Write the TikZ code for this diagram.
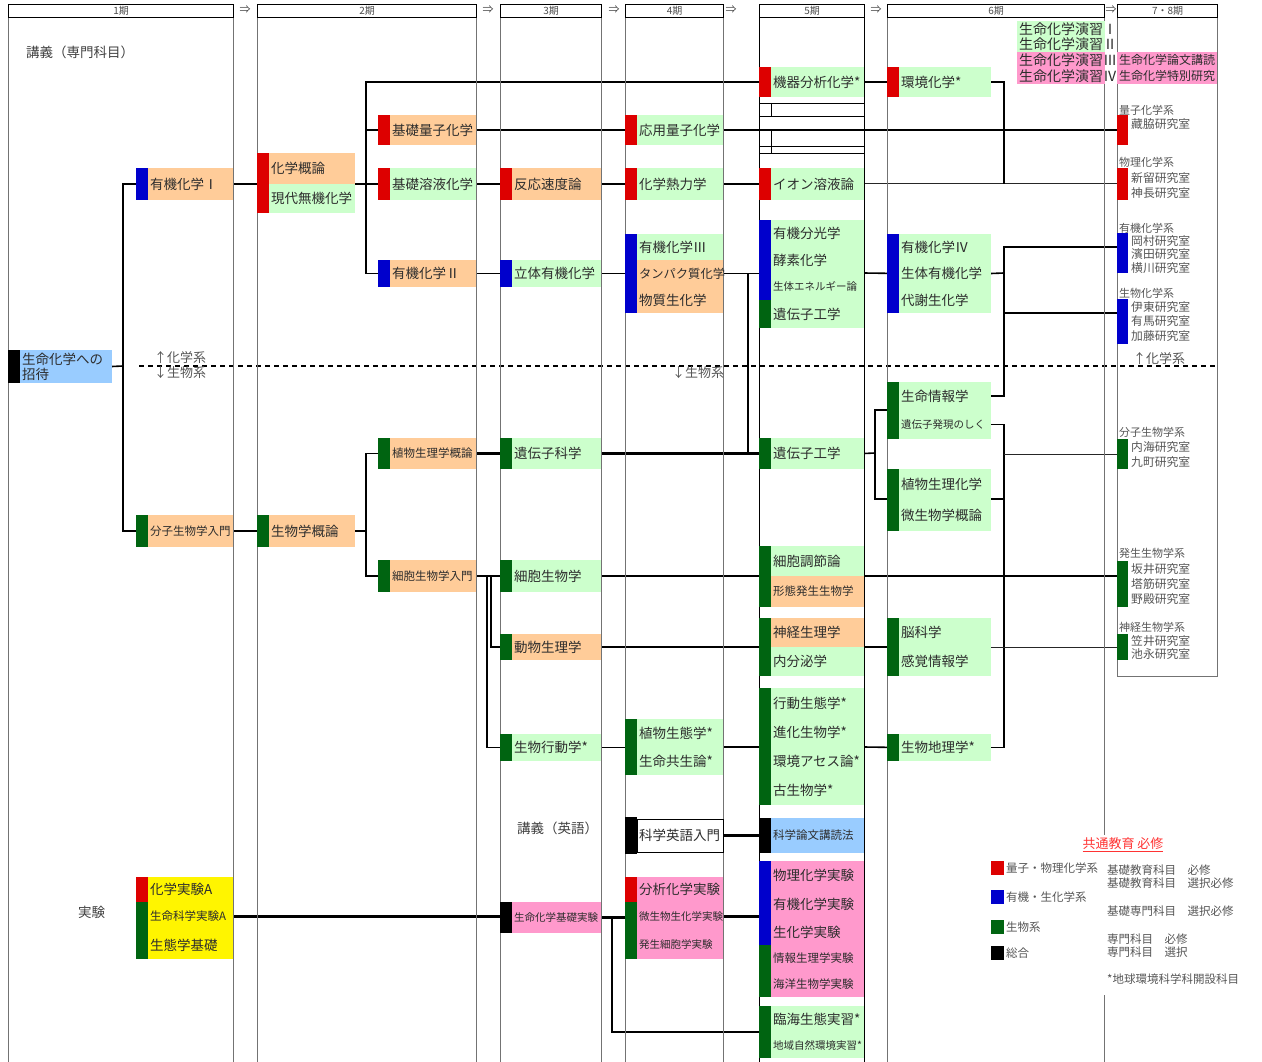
\documentclass[tikz,border=0pt]{standalone}
\usepackage{fontspec}
\setmainfont{Noto Sans CJK JP}
\usepackage{tikz}
\usetikzlibrary{positioning, backgrounds}
\definecolor{peach}{RGB}{255,204,153}
\definecolor{mint}{RGB}{204,255,204}
\definecolor{rose}{RGB}{255,153,204}
\definecolor{sky}{RGB}{153,204,255}
\definecolor{lemon}{RGB}{255,245,0}
\definecolor{kred}{RGB}{221,0,0}
\definecolor{kblue}{RGB}{0,0,204}
\definecolor{kgreen}{RGB}{0,100,17}
\definecolor{ink}{RGB}{45,45,45}
\definecolor{labgray}{RGB}{85,85,85}

\begin{document}
\begin{tikzpicture}[
    x=1pt, y=-1pt,
    fbig/.style={font=\fontsize{13.5}{15}\selectfont},
    fsmall/.style={font=\fontsize{11.5}{13}\selectfont},
    ftiny/.style={font=\fontsize{10.5}{12}\selectfont},
    course/.style={anchor=north west, fill=#1, inner xsep=2pt, inner ysep=0pt, outer sep=0pt, align=left, text=ink, fbig},
    ht/.style={minimum height=#1},
    w1/.style={text width=81pt},
    w2/.style={text width=82pt},
    w3/.style={text width=85pt},
    w4/.style={text width=82pt},
    w5/.style={text width=89pt},
    w6/.style={text width=88pt},
    head/.style={anchor=north west, draw, line width=1.2pt, fill=white, minimum height=13pt, inner sep=0pt, text=black!70, font=\fontsize{10}{10}\selectfont},
    labbar/.style={anchor=north west, fill=#1, minimum width=11pt, inner sep=0pt, outer sep=0pt},
    room/.style={anchor=west, inner sep=0pt, text=labgray, font=\fontsize{11.8}{12}\selectfont},
    grp/.style={anchor=west, inner sep=0pt, text=labgray, font=\fontsize{11}{12}\selectfont},
    note/.style={anchor=west, inner sep=0pt, text=labgray, font=\fontsize{11.5}{12}\selectfont},
    sect/.style={anchor=west, inner sep=0pt, text=black!75, font=\fontsize{13.5}{15}\selectfont},
    conn/.style={line width=1.6pt},
    thickc/.style={line width=2.8pt},
    thinc/.style={line width=1pt, black!85},
    col/.style={black!55, line width=0.9pt}
]
\useasboundingbox (0,0) rectangle (1262,1062);

% columns
\foreach \x in {8,233,257,476,500,601,625,723} \draw[col] (\x,17) -- (\x,1062);
\foreach \x in {759,864} \draw[black, line width=0.9pt] (\x,17) -- (\x,1062);
\draw[col] (887,17) -- (887,1062);
\draw[col] (1104,17) -- (1104,835);
\draw[col] (1104,995) -- (1104,1062);
\draw[col] (1117,17) rectangle (1217,676);
% empty cells in 5th term
\draw[black, line width=0.8pt] (759,103) rectangle (864,116);
\draw[black, line width=0.8pt] (771,103) -- (771,116);
\draw[black, line width=0.8pt] (759,146) -- (864,146);
\draw[black, line width=0.8pt] (759,153) -- (864,153);
\draw[black, line width=0.8pt] (771,131) -- (771,153);

% term headers
\foreach \x [count=\i] in {245,488,614,731,876,1111}
    \node[text=black!70, font=\fontsize{11}{11}\selectfont] (arr\i) at (\x,10) {⇒};
\foreach \xa/\xb/\t [count=\i] in {8/233/1期, 257/476/2期, 500/601/3期, 625/723/4期, 759/864/5期, 887/1104/6期, 1117/1217/7・8期}
    \node[head, minimum width=\xb-\xa] (h\i) at (\xa,4) {\t};

% section titles
\node[sect] (senmon) at (26,52) {講義（専門科目）};
\node[sect] (eigokougi) at (517,828) {講義（英語）};
\node[sect] (jikken) at (78,912) {実験};
\node[note, font=\fontsize{13}{14}\selectfont] (up1) at (154,358) {↑化学系};
\node[note, font=\fontsize{13}{14}\selectfont] (down1) at (154,373) {↓生物系};
\node[note, font=\fontsize{13}{14}\selectfont] (down4) at (672,373) {↓生物系};
\node[note, font=\fontsize{13}{14}\selectfont] (up7) at (1133,359) {↑化学系};

% 1st term
\node[course=sky, text width=88pt, ht=33] (shotai) at (20,350) {生命化学への\\招待};
\node[course=peach, w1, ht=32] (yuki1) at (148,168) {有機化学Ⅰ};
\node[course=peach, w1, fsmall, ht=32] (bunshi) at (148,515) {分子生物学入門};
\node[course=lemon, w1, ht=25] (kjA) at (148,877) {化学実験A};
\node[course=lemon, w1, fsmall, ht=29] (sjA) at (148,902) {生命科学実験A};
\node[course=lemon, w1, ht=28] (seitaikiso) at (148,931) {生態学基礎};

% 2nd term
\node[course=peach, w2, ht=31] (gairon) at (269,153) {化学概論};
\node[course=mint, w2, ht=29] (gendai) at (269,184) {現代無機化学};
\node[course=peach, w2, ht=32] (seibutsu) at (269,515) {生物学概論};
\node[course=peach, w2, ht=30] (kryoshi) at (390,115) {基礎量子化学};
\node[course=mint, w2, ht=32] (kyoeki) at (390,168) {基礎溶液化学};
\node[course=peach, w2, ht=27] (yuki2) at (390,260) {有機化学Ⅱ};
\node[course=peach, w2, fsmall, ht=31] (shokugai) at (390,438) {植物生理学概論};
\node[course=peach, w2, fsmall, ht=32] (saibonyu) at (390,560) {細胞生物学入門};

% 3rd term
\node[course=peach, w3, ht=32] (hanno) at (512,168) {反応速度論};
\node[course=mint, w3, ht=27] (rittai) at (512,260) {立体有機化学};
\node[course=mint, w3, ht=31] (ikagaku) at (512,438) {遺伝子科学};
\node[course=mint, w3, ht=32] (saibo) at (512,560) {細胞生物学};
\node[course=peach, w3, ht=26] (dobutsu) at (512,634) {動物生理学};
\node[course=mint, w3, ht=27] (kodo) at (512,734) {生物行動学*};
\node[course=rose, w3, ftiny, ht=31] (kisojik) at (512,902) {生命化学基礎実験};

% 4th term
\node[course=mint, w4, ht=30] (oryoshi) at (637,115) {応用量子化学};
\node[course=mint, w4, ht=32] (netsu) at (637,168) {化学熱力学};
\node[course=mint, w4, ht=26] (yuki3) at (637,234) {有機化学Ⅲ};
\node[course=peach, w4, font=\fontsize{12.3}{13}\selectfont, ht=27] (tanpaku) at (637,260) {タンパク質化学};
\node[course=peach, w4, ht=26] (busshitsu) at (637,287) {物質生化学};
\node[course=mint, w4, ht=28] (shokuseitai) at (637,719) {植物生態学*};
\node[course=mint, w4, ht=28] (kyosei) at (637,747) {生命共生論*};
\node[course=white, draw=black, line width=0.8pt, w4, ht=33] (eigo) at (637,819) {科学英語入門};
\node[course=rose, w4, ht=25] (bunseki) at (637,877) {分析化学実験};
\node[course=rose, w4, ftiny, ht=29] (biseijik) at (637,902) {微生物生化学実験};
\node[course=rose, w4, ftiny, ht=28] (hasseijik) at (637,931) {発生細胞学実験};

% 5th term
\node[course=mint, w5, ht=30] (kiki) at (771,67) {機器分析化学*};
\node[course=mint, w5, ht=32] (ion) at (771,168) {イオン溶液論};
\node[course=mint, w5, ht=27] (bunko) at (771,220) {有機分光学};
\node[course=mint, w5, ht=26] (koso) at (771,247) {酵素化学};
\node[course=mint, w5, ftiny, ht=27] (energy) at (771,273) {生体エネルギー論};
\node[course=mint, w5, ht=28] (ikogaku1) at (771,300) {遺伝子工学};
\node[course=mint, w5, ht=31] (ikogaku) at (771,438) {遺伝子工学};
\node[course=mint, w5, ht=30] (chosetsu) at (771,546) {細胞調節論};
\node[course=peach, w5, fsmall, ht=31] (keitai) at (771,576) {形態発生生物学};
\node[course=peach, w5, ht=29] (shinkei) at (771,618) {神経生理学};
\node[course=mint, w5, ht=29] (naibunpi) at (771,647) {内分泌学};
\node[course=mint, w5, ht=30] (kodoseitai) at (771,688) {行動生態学*};
\node[course=mint, w5, ht=29] (shinka) at (771,718) {進化生物学*};
\node[course=mint, w5, ht=28] (assess) at (771,747) {環境アセス論*};
\node[course=mint, w5, ht=30] (kosei) at (771,775) {古生物学*};
\node[course=sky, w5, fsmall, ht=35] (ronbun) at (771,818) {科学論文講読法};
\node[course=rose, w5, ht=29] (butsurij) at (771,861) {物理化学実験};
\node[course=rose, w5, ht=29] (yukij) at (771,890) {有機化学実験};
\node[course=rose, w5, ht=26] (seikaj) at (771,919) {生化学実験};
\node[course=rose, w5, fsmall, ht=26] (johoj) at (771,945) {情報生理学実験};
\node[course=rose, w5, fsmall, ht=26] (kaiyoj) at (771,971) {海洋生物学実験};
\node[course=mint, w5, ht=26] (rinkai) at (771,1006) {臨海生態実習*};
\node[course=mint, w5, ftiny, ht=26] (chiiki) at (771,1032) {地域自然環境実習*};

% 6th term
\node[course=mint, w6, ht=30] (kankyo) at (899,67) {環境化学*};
\node[course=mint, w6, ht=26] (yuki4) at (899,234) {有機化学Ⅳ};
\node[course=mint, w6, ht=27] (seitaiyuki) at (899,260) {生体有機化学};
\node[course=mint, w6, ht=26] (taisha) at (899,287) {代謝生化学};
\node[course=mint, w6, ht=28] (joho) at (899,382) {生命情報学};
\node[course=mint, w6, ftiny, ht=29] (hatsugen) at (899,410) {遺伝子発現のしく};
\node[course=mint, w6, ht=30] (shokuseiri) at (899,469) {植物生理化学};
\node[course=mint, w6, ht=32] (biseigai) at (899,499) {微生物学概論};
\node[course=mint, w6, ht=29] (nou) at (899,618) {脳科学};
\node[course=mint, w6, ht=29] (kankaku) at (899,647) {感覚情報学};
\node[course=mint, w6, ht=27] (chiri) at (899,734) {生物地理学*};
\node[course=mint, text width=84pt, font=\fontsize{14}{15}\selectfont, ht=15.5] (enshu1) at (1017,21) {生命化学演習Ⅰ};
\node[course=mint, text width=84pt, font=\fontsize{14}{15}\selectfont, ht=15.5] (enshu2) at (1017,36.5) {生命化学演習Ⅱ};
\node[course=rose, text width=84pt, font=\fontsize{14}{15}\selectfont, ht=16] (enshu3) at (1017,52) {生命化学演習Ⅲ};
\node[course=rose, text width=84pt, font=\fontsize{14}{15}\selectfont, ht=16] (enshu4) at (1017,68) {生命化学演習Ⅳ};

% 7th-8th term
\node[course=rose, text width=96pt, font=\fontsize{12}{13}\selectfont, ht=16] (koudoku) at (1117,52) {生命化学論文講読};
\node[course=rose, text width=96pt, font=\fontsize{12}{13}\selectfont, ht=16] (tokubetsu) at (1117,68) {生命化学特別研究};
\node[labbar=kred, ht=30] (ryoshi) at (1117,115) {};
\node[labbar=kred, ht=32] (butsuri) at (1117,168) {};
\node[labbar=kblue, ht=40] (yukikei) at (1117,233) {};
\node[labbar=kblue, ht=45] (seika) at (1117,299) {};
\node[labbar=kgreen, ht=30] (bunshikei) at (1117,439) {};
\node[labbar=kgreen, ht=46] (hasseikei) at (1117,561) {};
\node[labbar=kgreen, ht=26] (shinkeikei) at (1117,634) {};
\foreach \y/\t [count=\i] in {110/量子化学系, 162/物理化学系, 228/有機化学系, 293/生物化学系, 432/分子生物学系, 553/発生生物学系, 627/神経生物学系}
    \node[grp] (grp\i) at (1119,\y) {\t};
\foreach \y/\t [count=\i] in {124/藏脇研究室, 178/新留研究室, 193/神長研究室, 241/岡村研究室, 254/濱田研究室, 268/横川研究室, 307/伊東研究室, 321/有馬研究室, 336/加藤研究室, 447/内海研究室, 462/九町研究室, 569/坂井研究室, 584/塔筋研究室, 599/野殿研究室, 641/笠井研究室, 654/池永研究室}
    \node[room] (room\i) at (1131,\y) {\t};

% colour bars
\foreach \x/\ya/\yb/\c in {136/168/200/kblue, 136/515/547/kgreen, 8/350/383/black, 136/877/902/kred, 136/902/959/kgreen,
    257/153/213/kred, 257/515/547/kgreen, 378/115/145/kred, 378/168/200/kred, 378/260/287/kblue, 378/438/469/kgreen, 378/560/592/kgreen,
    500/168/200/kred, 500/260/287/kblue, 500/438/469/kgreen, 500/560/592/kgreen, 500/634/660/kgreen, 500/734/761/kgreen, 500/902/933/black,
    625/115/145/kred, 625/168/200/kred, 625/234/313/kblue, 625/719/775/kgreen, 625/817/854/black, 625/877/902/kred, 625/902/959/kgreen,
    759/67/97/kred, 759/168/200/kred, 759/220/300/kblue, 759/300/328/kgreen, 759/438/469/kgreen, 759/546/607/kgreen, 759/618/676/kgreen,
    759/688/805/kgreen, 759/818/853/black, 759/861/945/kblue, 759/945/997/kgreen, 759/1006/1058/kgreen,
    887/67/97/kred, 887/234/313/kblue, 887/382/439/kgreen, 887/469/531/kgreen, 887/618/676/kgreen, 887/734/761/kgreen}
    \fill[\c] (\x,\ya) rectangle (\x+12,\yb);

% legend
\node[anchor=center, inner sep=0pt, text=red!80!white, font=\fontsize{13}{14}\selectfont] (kyotsu) at (1123,845) {\underline{共通教育 必修}};
\foreach \y/\c/\t [count=\i] in {861/kred/量子・物理化学系, 890/kblue/有機・生化学系, 920/kgreen/生物系, 946/black/総合} {
    \node[labbar=\c, minimum width=13pt, ht=14] (key\i) at (991,\y) {};
    \node[note, right=2pt of key\i] (keyt\i) {\t};
}
\foreach \y/\t [count=\i] in {870/基礎教育科目　必修, 883/基礎教育科目　選択必修, 911/基礎専門科目　選択必修, 939/専門科目　必修, 952/専門科目　選択, 979/*地球環境科学科開設科目}
    \node[note] (kind\i) at (1107,\y) {\t};

% connectors
\begin{scope}[on background layer]
\draw[line width=1.5pt, dash pattern=on 5pt off 4pt] (139,366) -- (1217,366);
% chemistry
\coordinate (s1) at (123,366);
\draw[conn] (shotai.east) -- (s1);
\draw[conn] (yuki1.west) -| (s1) |- (bunshi.west);
\draw[conn] (yuki1.east) -- (yuki1.east -| gairon.west);
\coordinate (s2) at (366,184);
\draw[conn] (gairon.south east) -- (kyoeki.west);
\draw[conn] (kiki.west) -| (s2) |- (yuki2.west);
\draw[thickc] (s2 |- kryoshi.west) -- (kryoshi.west);
\draw[thickc] (kryoshi.east) -- (oryoshi.west);
\draw[thickc] (oryoshi.east) -- (ryoshi.west);
\draw[conn] (kyoeki.east) -- (hanno.west);
\draw[conn] (hanno.east) -- (netsu.west);
\draw[line width=2.2pt] (netsu.east) -- (ion.west);
\draw[thinc] (ion.east) -- (butsuri.west);
\draw[conn] (kiki.east) -- (kankyo.west);
\coordinate (s3) at (1004,184);
\draw[conn] (kankyo.east) -| (s3);
\draw[conn] (yuki2.east) -- (rittai.west);
\draw[conn] (rittai.east) -- (tanpaku.west);
\draw[conn] (tanpaku.east) -- (tanpaku.east -| energy.west);
\coordinate (s4) at (748,453);
\draw[conn] (s4 |- tanpaku.east) -- (s4);
\draw[conn] (energy.north east) -- (seitaiyuki.west);
\coordinate (s5) at (1004,273);
\draw[conn] (seitaiyuki.east) -- (s5);
\draw[conn] (yuki4.east -| yukikei.west) -| (s5) |- (joho.east);
\draw[conn] (s5 |- taisha.south) -- (seika.west |- taisha.south);
% biology
\draw[thickc] (shokugai.east) -- (ikagaku.west);
\draw[thickc] (ikagaku.east) -- (ikogaku.west);
\coordinate (s6) at (875,453);
\draw[conn] (ikogaku.east) -- (s6);
\draw[conn] (joho.south west) -| (s6) |- (shokuseiri.south west);
\coordinate (s7) at (1004,454);
\draw[conn] (hatsugen.east) -| (s7) |- (chiri.east);
\draw[conn] (shokuseiri.south east) -- (shokuseiri.south east -| s7);
\draw[thinc] (s7) -- (bunshikei.west);
\draw[conn] (bunshi.east) -- (seibutsu.west);
\coordinate (s8) at (366,531);
\draw[conn] (seibutsu.east) -- (s8);
\draw[conn] (shokugai.west) -| (s8) |- (saibonyu.west);
\draw[conn] (saibonyu.east) -- (saibo.west);
\draw[line width=1.2pt] (487,576) |- (kodo.west);
\draw[line width=1.2pt] (491,576) |- (dobutsu.west);
\draw[conn] (saibo.east) -- (saibo.east -| keitai.west);
\draw[conn] (keitai.north east) -- (keitai.north east -| hasseikei.west);
\draw[conn] (dobutsu.east) -- (dobutsu.east -| naibunpi.west);
\draw[conn] (naibunpi.north east) -- (kankaku.north west);
\draw[thinc] (kankaku.north east) -- (kankaku.north east -| shinkeikei.west);
\draw[conn] (kodo.east) -- (kodo.east -| kyosei.west);
\draw[conn] (kyosei.north east) -- (kyosei.north east -| assess.west);
\draw[conn] (assess.north east) -- (chiri.west);
% experiments
\draw[thickc] (sjA.east) -- (sjA.east -| kisojik.west);
\draw[thickc] (kisojik.east) -- (kisojik.east -| biseijik.west);
\draw[thickc] (biseijik.east) -- (biseijik.east -| seikaj.west);
\draw[conn] ([xshift=11pt]kisojik.east) |- (rinkai.south west);
\draw[thickc] (eigo.east) -- (ronbun.west);
\end{scope}
\end{tikzpicture}
\end{document}
